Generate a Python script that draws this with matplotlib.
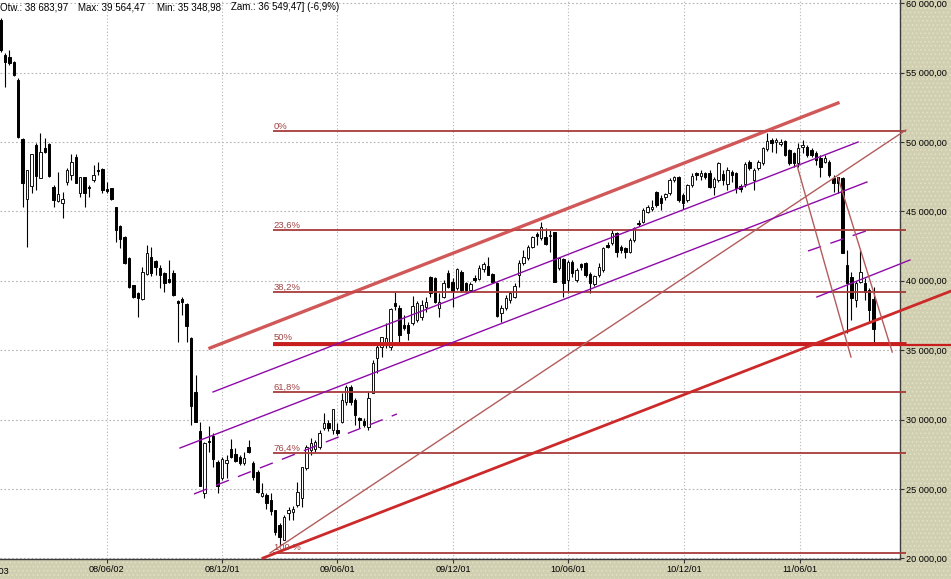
import datetime as dt
import numpy as np
import matplotlib
matplotlib.use("Agg")
import matplotlib.pyplot as plt
from matplotlib.patches import Rectangle

plt.rcParams["font.family"] = ["Liberation Sans", "DejaVu Sans"]
plt.rcParams["hatch.linewidth"] = 0.6

# weekly candles, first one is the week of 2007-12-17
START = dt.date(2007, 12, 17)

opens = [
    58795, 56272, 56128, 55768, 54470, 50218, 45894, 46831, 49786, 47408,
    49570, 49858, 46759, 45750, 45606, 47119, 47624, 48921, 46327, 47480,
    46759, 47263, 47984, 48056, 46614, 46687, 45318, 43948, 43155, 41642,
    39696, 39120, 38687, 40489, 41714, 41426, 40921, 40561, 40128, 40561,
    38543, 38687, 38327, 35876, 31986, 29174, 24705, 28453, 28814, 26940,
    25787, 26868, 27877, 27516, 27300, 26868, 28021, 26868, 26219, 24489,
    24561, 24201, 23481, 22400, 21320, 23265, 23337, 23841, 24345, 26507,
    27805, 27877, 28021, 29390, 29751, 29246, 29246, 29823, 31264, 32346,
    31408, 30111, 29895, 29462, 31913, 34435, 35228, 35588, 35228, 38399,
    38038, 36813, 36813, 36957, 37174, 37390, 38111, 40273, 40201, 38038,
    38831, 40561, 39912, 39480, 40633, 39840, 39336, 40201, 40128, 40849,
    41065, 40489, 39840, 37678, 38038, 38615, 38831, 40417, 41282, 41642,
    42435, 43372, 43083, 43155, 43228, 43516, 40921, 41570, 40056, 41354,
    40056, 41209, 41282, 40489, 39768, 40417, 40777, 42579, 42723, 43444,
    42435, 42362, 42074, 42939, 44164, 44236, 44957, 45173, 46399, 45966,
    46038, 46327, 47263, 47480, 46182, 45822, 46903, 47768, 47552, 47768,
    47768, 46759, 47263, 47696, 46975, 47840, 47768, 46831, 46975, 48561,
    47263, 48128, 48489, 49498, 50146, 50002, 49858, 50074, 49425, 49209,
    48489, 49642, 49642, 49425, 49209, 48849, 48561, 48561, 47408, 47480,
    47408, 41137, 40273, 38615, 39912, 39840, 39336, 38683.97,
]
highs = [
    58940, 56416, 56633, 55840, 54614, 50290, 47984, 49137, 49930, 50650,
    50290, 49930, 46903, 47840, 46399, 48128, 49137, 49137, 47480, 47480,
    46903, 48345, 48561, 48128, 47119, 46687, 45318, 44020, 43228, 41714,
    39696, 39192, 40993, 42579, 42435, 41498, 41137, 40633, 41498, 40777,
    38615, 38831, 38399, 35948, 33210, 29823, 28381, 29534, 29030, 27084,
    27300, 27444, 28597, 27949, 27444, 27661, 28525, 27012, 26363, 25426,
    24705, 24705, 23481, 22544, 23120, 23697, 23769, 25498, 26579, 28165,
    28670, 28525, 29246, 30472, 29967, 30760, 29751, 31913, 32490, 32490,
    31553, 30183, 30111, 31986, 34291, 35372, 35948, 36957, 38038, 39192,
    38255, 37534, 37029, 38903, 38543, 38615, 38831, 40345, 40273, 39120,
    40056, 40777, 40201, 40921, 40777, 39912, 39912, 40417, 41137, 41354,
    41714, 40561, 39912, 38255, 38975, 39192, 39840, 41498, 42218, 42579,
    43228, 43516, 44236, 43804, 43660, 43516, 41714, 41642, 41498, 41498,
    40921, 41282, 41354, 40633, 40417, 41282, 42435, 42795, 43660, 43516,
    42579, 42435, 43083, 43876, 44380, 45245, 45462, 45822, 46471, 46182,
    46327, 47408, 47552, 47552, 46327, 46975, 47768, 47840, 47984, 47840,
    47984, 47480, 48561, 47984, 48200, 47984, 47840, 46975, 48561, 48705,
    48128, 48705, 49642, 50650, 50290, 50290, 50218, 50146, 49498, 49281,
    49930, 50146, 49786, 49570, 49354, 49065, 49065, 48705, 47624, 47480,
    47480, 42218, 40633, 39984, 42218, 40201, 39480, 39564.47,
]
lows = [
    56490, 53966, 55552, 54759, 50290, 45318, 42435, 46327, 46543, 47408,
    49209, 47480, 45318, 45678, 44525, 46903, 47263, 47047, 46038, 45318,
    46038, 47119, 47624, 46327, 46327, 45822, 42795, 42362, 41209, 39480,
    38759, 37390, 38615, 40417, 40345, 40417, 39480, 39192, 39840, 38903,
    35588, 37534, 35588, 29606, 29823, 25210, 24345, 27661, 26579, 24705,
    25642, 25787, 27228, 26940, 26723, 26723, 27588, 25642, 24705, 24417,
    23553, 23120, 21680, 20960, 21320, 22760, 22760, 23697, 23697, 26363,
    27444, 27661, 27877, 29246, 29174, 28958, 28886, 29751, 31048, 31048,
    29606, 29390, 29462, 29246, 31913, 33355, 34507, 35156, 35012, 37894,
    35588, 36453, 35732, 36813, 37029, 37174, 37750, 38831, 38399, 37390,
    38759, 39480, 38111, 39336, 39192, 39192, 39192, 39912, 40056, 40633,
    40417, 39840, 37390, 37029, 37894, 38399, 38759, 39552, 41137, 41498,
    42362, 42579, 42939, 42579, 42074, 39912, 40777, 38831, 39120, 40273,
    39912, 40777, 40273, 39120, 39624, 40273, 40633, 42362, 42579, 41714,
    42002, 41642, 42002, 42795, 43948, 44164, 44885, 45029, 45318, 45101,
    45822, 46182, 47119, 45678, 45173, 45678, 46759, 47263, 47263, 47335,
    46687, 46182, 47119, 46903, 46543, 47119, 46327, 46399, 46759, 47984,
    46543, 47984, 48345, 49354, 49281, 49209, 49714, 48993, 48345, 48200,
    48200, 49209, 48921, 48921, 48345, 47480, 48489, 47480, 46399, 46327,
    42002, 36237, 37174, 38111, 39840, 38615, 36957, 35348.98,
]
closes = [
    56633, 55768, 55696, 54831, 50362, 47047, 47984, 49137, 47552, 49281,
    49281, 47552, 45822, 46254, 45894, 47984, 48561, 47047, 47480, 46327,
    46687, 47624, 47912, 46543, 46471, 45894, 43660, 43011, 41282, 39552,
    38831, 38759, 40633, 42002, 40561, 40993, 40417, 39840, 39912, 38975,
    38399, 38471, 36741, 30976, 29823, 25210, 28309, 28381, 27156, 25210,
    27156, 27084, 27300, 27012, 26868, 27228, 27661, 25859, 24778, 24705,
    23985, 23409, 21896, 21536, 22976, 23481, 23553, 24778, 26579, 28021,
    28309, 28381, 29030, 29751, 29390, 30760, 29030, 31408, 32346, 31264,
    30327, 29967, 29606, 31553, 34075, 35228, 35948, 35876, 37966, 38183,
    36093, 36597, 36237, 38183, 38399, 38255, 38471, 39120, 38471, 38471,
    39840, 39552, 39264, 40849, 39336, 39336, 39768, 40056, 40921, 41209,
    40417, 39912, 37462, 38038, 38759, 39120, 39624, 41282, 41714, 42435,
    43155, 43228, 43876, 42651, 43300, 39912, 41642, 39840, 41354, 40561,
    40777, 40993, 40417, 39840, 40345, 40993, 42362, 42435, 43444, 42074,
    42218, 42074, 42939, 43804, 44092, 45101, 45318, 45318, 45462, 45606,
    46254, 47263, 47480, 45822, 45606, 46903, 47552, 47624, 47768, 47480,
    46759, 47335, 48489, 47263, 47984, 47624, 46687, 46614, 48417, 48128,
    47984, 48561, 49570, 50074, 49930, 50146, 50002, 49065, 48489, 48489,
    49570, 49786, 49065, 49065, 48705, 48200, 48849, 47624, 47047, 47047,
    42002, 39840, 38759, 39840, 40633, 39192, 37894, 36549.47,
]
change_txt = "(-6,9%)"

tick_dates = ["2007-12-03", "2008-06-02", "2008-12-01", "2009-06-01",
              "2009-12-01", "2010-06-01", "2010-12-01", "2011-06-01"]
y_ticks = [20000, 25000, 30000, 35000, 40000, 45000, 50000, 55000, 60000]

# Fibonacci retracement of the 2009 low -> 2011 high move
fib_labels = ["0%", "23,6%", "38,2%", "50%", "61,8%", "76,4%", "100 %"]
fib_values = [50800, 43626, 39187, 35550, 32013, 27574, 20400]
fib_start = 61.4          # in weeks from START
fib_end = 204.3
support_value = 35370

# drawn trend lines: (x0, x1) in weeks, (v0, v1) in index points
upper_red = ([47.27, 188.97], [35156, 52813])
lower_red = ([59.23, 214.5], [20020, 39264])
fan_line = ([60.81, 204.3], [20381, 50867])
purple_a = ([40.5, 195.5], [27949, 47119])
purple_b = ([47.95, 193.5], [31986, 50002])
purple_c = ([43.66, 89.46], [24634, 30400])
purple_d = ([182.2, 196.6], [42146, 43732])
purple_e = ([184.2, 205.2], [38831, 41498])
down_1 = ([179.7, 191.9], [48344, 34507])
down_2 = ([189.0, 201.2], [47408, 34867])


def pl(v):
    return f"{v:,.2f}".replace(",", " ").replace(".", ",")


W, H = 951, 579
fig = plt.figure(figsize=(W / 100, H / 100), dpi=100)
fig.patch.set_facecolor("#d0cfb2")
fig.add_artist(Rectangle((0, 0), 1, 1, transform=fig.transFigure, facecolor="none",
                         edgecolor="#e4e2c2", hatch="....", linewidth=0, zorder=-1))

ax = fig.add_axes([0, 20.5 / H, 900 / W, 558.5 / H])
ax.set_facecolor("white")
ax.set_xlim(-0.113, 202.96)
ax.set_ylim(19985, 60236)

# grid
tick_pos = [(dt.date.fromisoformat(d) - START).days / 7 for d in tick_dates]
for xp in tick_pos[1:]:
    ax.axvline(xp, color="#b4b4b4", lw=0.8, ls=(0, (1, 2)), zorder=0)
for yv in y_ticks:
    ax.axhline(yv, color="#b4b4b4", lw=0.8, ls=(0, (1.5, 2)), zorder=0)

# candles
x = np.arange(len(opens))
o, hi, lo, c = (np.array(a, dtype=float) for a in (opens, highs, lows, closes))
up = c >= o
ax.vlines(x, lo, hi, color="black", lw=0.8, zorder=2)
ax.bar(x[up], c[up] - o[up], bottom=o[up], width=0.55, facecolor="white",
       edgecolor="#111111", lw=0.7, zorder=2.5)
ax.bar(x[~up], o[~up] - c[~up], bottom=c[~up], width=0.55, facecolor="black",
       edgecolor="black", lw=0.7, zorder=2.5)

# fibonacci levels
ax.hlines(fib_values, fib_start, fib_end, color="#a83a3a", lw=1.3, zorder=3, clip_on=False)
ax.hlines(fib_values[3], fib_start, fib_end, color="#c81e1e", lw=1.8, zorder=3, clip_on=False)
ax.hlines(support_value, fib_start, 214.5, color="#c81e1e", lw=1.6, zorder=3, clip_on=False)
for lab, val in zip(fib_labels, fib_values):
    ax.text(fib_start + 0.2, val + 20, lab, color="#a04444", fontsize=6.8,
            va="bottom", ha="left", zorder=4)

# trend lines
ax.plot(*upper_red, color="#cc4646", lw=2.4, alpha=0.9, zorder=3, clip_on=False)
ax.plot(*lower_red, color="#cc2a2a", lw=2.0, zorder=3, clip_on=False)
ax.plot(*fan_line, color="#b45c5c", lw=1.0, zorder=3, clip_on=False)
for ln in (purple_a, purple_b, purple_e):
    ax.plot(*ln, color="#8e0aa8", lw=1.0, zorder=3, clip_on=False)
for ln in (purple_c, purple_d):
    ax.plot(*ln, color="#8e0aa8", lw=1.0, ls=(0, (10, 7)), zorder=3, clip_on=False)
for ln in (down_1, down_2):
    ax.plot(*ln, color="#b45c5c", lw=1.0, zorder=3, clip_on=False)

# axes
for side in ("left", "top"):
    ax.spines[side].set_visible(False)
for side in ("right", "bottom"):
    ax.spines[side].set_color("#3c3c3c")
    ax.spines[side].set_linewidth(1.0)
ax.yaxis.tick_right()
ax.set_yticks(y_ticks)
ax.set_yticklabels([pl(v) for v in y_ticks])
ax.set_xticks(tick_pos[1:])
ax.set_xticklabels([d[2:].replace("-", "/") for d in tick_dates[1:]])
ax.tick_params(axis="both", labelsize=6.6, length=3, width=0.8, color="#333333",
               pad=1.5, labelcolor="black")
ax.text(tick_pos[0], -0.024, tick_dates[0][2:].replace("-", "/"), fontsize=6.6,
        ha="center", va="center", transform=ax.get_xaxis_transform(), clip_on=False)

# header with the last candle
hy = 1 - 7 / H
fig.text(0 / W, hy, f"Otw.: {pl(opens[-1])}", fontsize=7, va="center")
fig.text(78 / W, hy, f"Max: {pl(highs[-1])}", fontsize=7, va="center")
fig.text(157 / W, hy, f"Min: {pl(lows[-1])}", fontsize=7, va="center")
fig.text(231 / W, hy, f"Zam.: {pl(closes[-1])}] {change_txt}", fontsize=7, va="center")

fig.savefig("out.png", dpi=100, facecolor=fig.get_facecolor())
